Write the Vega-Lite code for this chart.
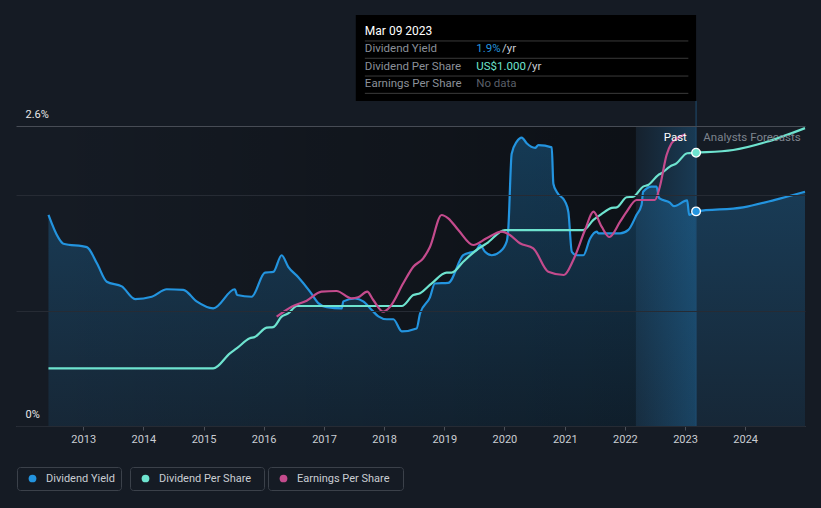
{
"$schema": "https://vega.github.io/schema/vega-lite/v6.json",
"width": 789,
"height": 300,
"autosize": {"type": "none"},
"padding": {"left": 16, "top": 126, "right": 16, "bottom": 82},
"background": "#151b24",
"config": {"font": "Roboto", "view": {"stroke": null}, "axis": {"labelFont": "Roboto"}, "legend": {"labelFont": "Roboto"}},
"datasets": {
"yield": [
{"date":"2012-06-04","yield":1.83},{"date":"2012-08-04","yield":1.63},{"date":"2012-09-03","yield":1.58},{"date":"2013-01-23","yield":1.55},
{"date":"2013-03-25","yield":1.41},{"date":"2013-05-24","yield":1.25},{"date":"2013-08-23","yield":1.21},{"date":"2013-11-12","yield":1.10},
{"date":"2014-02-21","yield":1.12},{"date":"2014-05-23","yield":1.185},{"date":"2014-08-31","yield":1.18},{"date":"2014-11-20","yield":1.08},
{"date":"2015-03-01","yield":1.02},{"date":"2015-07-10","yield":1.185},{"date":"2015-07-24","yield":1.135},{"date":"2015-10-20","yield":1.12},
{"date":"2016-01-09","yield":1.33},{"date":"2016-02-28","yield":1.335},{"date":"2016-04-19","yield":1.48},{"date":"2016-05-29","yield":1.38},
{"date":"2016-07-29","yield":1.29},{"date":"2016-10-08","yield":1.165},{"date":"2016-11-27","yield":1.065},{"date":"2017-01-18","yield":1.03},
{"date":"2017-04-19","yield":1.02},{"date":"2017-04-28","yield":1.08},{"date":"2017-07-08","yield":1.105},{"date":"2017-08-27","yield":1.08},
{"date":"2017-10-18","yield":1.005},{"date":"2017-11-27","yield":0.95},{"date":"2018-01-17","yield":0.925},{"date":"2018-02-26","yield":0.925},
{"date":"2018-04-18","yield":0.82},{"date":"2018-07-17","yield":0.845},{"date":"2018-08-07","yield":0.975},{"date":"2018-10-06","yield":1.115},
{"date":"2018-11-05","yield":1.235},{"date":"2019-01-25","yield":1.24},{"date":"2019-04-26","yield":1.48},{"date":"2019-07-16","yield":1.525},
{"date":"2019-08-05","yield":1.57},{"date":"2019-09-05","yield":1.51},{"date":"2019-10-16","yield":1.48},{"date":"2019-12-05","yield":1.51},
{"date":"2020-01-15","yield":1.60},{"date":"2020-01-24","yield":1.70},{"date":"2020-02-14","yield":2.36},{"date":"2020-03-16","yield":2.465},
{"date":"2020-04-15","yield":2.50},{"date":"2020-05-15","yield":2.45},{"date":"2020-07-05","yield":2.41},{"date":"2020-07-25","yield":2.435},
{"date":"2020-10-14","yield":2.415},{"date":"2020-10-24","yield":2.10},{"date":"2020-11-13","yield":2.03},{"date":"2021-01-03","yield":1.945},
{"date":"2021-01-23","yield":1.855},{"date":"2021-02-13","yield":1.51},{"date":"2021-03-15","yield":1.48},{"date":"2021-04-24","yield":1.48},
{"date":"2021-06-04","yield":1.625},{"date":"2021-07-14","yield":1.685},{"date":"2021-07-24","yield":1.67},{"date":"2021-12-03","yield":1.67},
{"date":"2022-01-22","yield":1.70},{"date":"2022-03-13","yield":1.83},{"date":"2022-04-12","yield":1.915},{"date":"2022-04-22","yield":2.03},
{"date":"2022-06-12","yield":2.075},{"date":"2022-07-12","yield":2.075},{"date":"2022-07-28","yield":1.975},{"date":"2022-10-01","yield":1.935},
{"date":"2022-10-26","yield":1.905},{"date":"2023-01-14","yield":1.955},{"date":"2023-01-26","yield":1.83},{"date":"2023-03-09","yield":1.86},
{"date":"2023-12-19","yield":1.895},{"date":"2024-06-30","yield":1.96},{"date":"2024-12-29","yield":2.03}
],
"dps": [
{"date":"2012-06-04","dps":0.211},{"date":"2015-03-01","dps":0.211},{"date":"2015-06-10","dps":0.266},{"date":"2015-07-21","dps":0.284},
{"date":"2015-10-09","dps":0.321},{"date":"2015-11-08","dps":0.326},{"date":"2016-01-19","dps":0.360},{"date":"2016-02-28","dps":0.362},
{"date":"2016-04-19","dps":0.400},{"date":"2016-05-29","dps":0.412},{"date":"2016-07-21","dps":0.439},{"date":"2018-04-18","dps":0.439},
{"date":"2018-06-27","dps":0.479},{"date":"2018-08-07","dps":0.486},{"date":"2018-10-17","dps":0.522},{"date":"2019-01-15","dps":0.561},
{"date":"2019-02-15","dps":0.561},{"date":"2019-04-26","dps":0.601},{"date":"2019-07-16","dps":0.644},{"date":"2019-09-15","dps":0.668},
{"date":"2020-01-04","dps":0.717},{"date":"2021-04-24","dps":0.717},{"date":"2021-06-24","dps":0.754},{"date":"2021-08-13","dps":0.776},
{"date":"2021-10-13","dps":0.798},{"date":"2021-11-12","dps":0.800},{"date":"2022-01-12","dps":0.837},{"date":"2022-02-21","dps":0.839},
{"date":"2022-04-22","dps":0.876},{"date":"2022-05-22","dps":0.882},{"date":"2022-07-22","dps":0.918},{"date":"2022-08-11","dps":0.925},
{"date":"2022-10-01","dps":0.949},{"date":"2022-11-10","dps":0.961},{"date":"2023-01-14","dps":0.998},{"date":"2023-03-09","dps":1.000},
{"date":"2023-10-20","dps":1.010},{"date":"2024-05-11","dps":1.040},{"date":"2024-12-29","dps":1.090}
],
"eps": [
{"date":"2016-03-20","eps":1.093},{"date":"2016-06-19","eps":1.193},{"date":"2016-09-18","eps":1.253},{"date":"2016-12-17","eps":1.343},
{"date":"2017-03-18","eps":1.350},{"date":"2017-06-17","eps":1.277},{"date":"2017-07-27","eps":1.287},{"date":"2017-09-20","eps":1.343},
{"date":"2017-10-27","eps":1.26},{"date":"2017-12-27","eps":1.143},{"date":"2018-02-06","eps":1.193},{"date":"2018-04-27","eps":1.427},
{"date":"2018-06-27","eps":1.593},{"date":"2018-08-26","eps":1.677},{"date":"2018-10-06","eps":1.79},{"date":"2018-12-16","eps":2.11},
{"date":"2019-01-25","eps":2.077},{"date":"2019-03-27","eps":1.96},{"date":"2019-06-26","eps":1.81},{"date":"2019-09-15","eps":1.877},
{"date":"2019-12-15","eps":1.943},{"date":"2020-02-03","eps":1.91},{"date":"2020-04-04","eps":1.827},{"date":"2020-06-24","eps":1.777},
{"date":"2020-09-23","eps":1.543},{"date":"2020-12-27","eps":1.51},{"date":"2021-02-22","eps":1.66},{"date":"2021-05-04","eps":1.96},
{"date":"2021-06-24","eps":2.143},{"date":"2021-08-13","eps":1.993},{"date":"2021-09-29","eps":1.89},{"date":"2021-12-03","eps":2.043},
{"date":"2022-01-12","eps":2.143},{"date":"2022-03-13","eps":2.26},{"date":"2022-07-02","eps":2.26},{"date":"2022-08-01","eps":2.393},
{"date":"2022-09-11","eps":2.71},{"date":"2022-10-11","eps":2.827},{"date":"2022-11-18","eps":2.88},{"date":"2023-01-01","eps":2.915}
]
},
"resolve": {"scale": {"y": "independent", "color": "independent"}, "axis": {"y": "independent"}, "legend": {"color": "independent"}},
"layer": [
{"data": {"values": [{}]},
 "mark": {"type": "rect", "color": {"gradient": "linear", "x1": 0, "y1": 0, "x2": 1, "y2": 0, "stops": [{"offset": 0, "color": "rgba(0,0,0,0)"}, {"offset": 1, "color": "rgba(0,0,0,0.38)"}]}},
 "encoding": {
  "x": {"datum": {"year": 2012, "month": 6, "date": 4}, "type": "temporal", "scale": {"domain": [{"year": 2011, "month": 11, "date": 20}, {"year": 2024, "month": 12, "date": 29}]}},
  "x2": {"datum": {"year": 2022, "month": 3, "date": 9}},
  "y": {"datum": 0, "type": "quantitative", "scale": {"domain": [0, 2.6]}, "axis": null},
  "y2": {"datum": 2.6}}},
{"data": {"values": [{}]},
 "mark": {"type": "rect", "color": {"gradient": "linear", "x1": 0, "y1": 0, "x2": 1, "y2": 0, "stops": [{"offset": 0, "color": "rgba(35,148,223,0.05)"}, {"offset": 1, "color": "rgba(35,148,223,0.26)"}]}},
 "encoding": {
  "x": {"datum": {"year": 2022, "month": 3, "date": 9}, "type": "temporal"},
  "x2": {"datum": {"year": 2023, "month": 3, "date": 9}},
  "y": {"datum": 0, "type": "quantitative", "scale": {"domain": [0, 2.6]}, "axis": null},
  "y2": {"datum": 2.6}}},
{"data": {"name": "yield"},
 "mark": {"type": "area", "interpolate": "monotone", "color": {"gradient": "linear", "x1": 0, "y1": 0, "x2": 0, "y2": 1, "stops": [{"offset": 0, "color": "rgba(35,148,223,0.30)"}, {"offset": 1, "color": "rgba(35,148,223,0.10)"}]}},
 "encoding": {
  "x": {"field": "date", "type": "temporal"},
  "y": {"field": "yield", "type": "quantitative", "scale": {"domain": [0, 2.6]}, "axis": null}}},
{"data": {"values": [{}]},
 "mark": {"type": "rule", "color": "#1f4d70", "strokeWidth": 1},
 "encoding": {
  "x": {"datum": {"year": 2023, "month": 3, "date": 9}, "type": "temporal"},
  "y": {"datum": 0, "type": "quantitative", "scale": {"domain": [0, 2.6]}, "axis": null},
  "y2": {"datum": 2.817}}},
{"data": {"name": "yield"},
 "mark": {"type": "line", "interpolate": "monotone", "strokeWidth": 2.2},
 "encoding": {
  "x": {"field": "date", "type": "temporal", "title": null,
        "axis": {"format": "%Y", "values": [{"year":2013,"month":1,"date":1},{"year":2014,"month":1,"date":1},{"year":2015,"month":1,"date":1},{"year":2016,"month":1,"date":1},{"year":2017,"month":1,"date":1},{"year":2018,"month":1,"date":1},{"year":2019,"month":1,"date":1},{"year":2020,"month":1,"date":1},{"year":2021,"month":1,"date":1},{"year":2022,"month":1,"date":1},{"year":2023,"month":1,"date":1},{"year":2024,"month":1,"date":1}],
                 "grid": false, "domainColor": "#4b5059", "tickColor": "#4b5059", "tickSize": 4, "labelColor": "#c9cdd3", "labelFontSize": 11, "labelPadding": 3, "labelFlush": false}},
  "y": {"field": "yield", "type": "quantitative", "title": null, "scale": {"domain": [0, 2.6], "nice": false},
        "axis": {"values": [0, 1, 2, 2.6], "labelExpr": "datum.value == 0 ? '0%' : (datum.value == 2.6 ? '2.6%' : '')", "grid": true,
                 "gridColor": {"condition": {"test": "datum.value == 2.6", "value": "#474c55"}, "value": "#262b34"},
                 "domain": false, "ticks": false, "labelAlign": "left", "labelPadding": -9, "labelBaseline": "bottom", "labelOffset": -7,
                 "labelColor": "#e8e8e8", "labelFontSize": 11, "labelFlush": false, "zindex": 1}},
  "color": {"datum": "Dividend Yield", "type": "nominal", "scale": {"domain": ["Dividend Yield"], "range": ["#2394df"]},
            "legend": {"orient": "none", "legendX": 1, "legendY": 341, "direction": "horizontal", "title": null, "symbolType": "circle", "symbolSize": 60,
                       "symbolFillColor": "#2394df", "symbolStrokeColor": "#2394df", "symbolStrokeWidth": 0, "strokeColor": "#3b414a", "cornerRadius": 3,
                       "padding": 6, "labelColor": "#c9cdd3", "labelFontSize": 11, "symbolOffset": 4, "labelOffset": 8}}}},
{"data": {"name": "dps"},
 "mark": {"type": "line", "interpolate": "monotone", "strokeWidth": 2.2},
 "encoding": {
  "x": {"field": "date", "type": "temporal"},
  "y": {"field": "dps", "type": "quantitative", "scale": {"domain": [0, 1.0977], "nice": false}, "axis": null},
  "color": {"datum": "Dividend Per Share", "type": "nominal", "scale": {"domain": ["Dividend Per Share"], "range": ["#6ee3cf"]},
            "legend": {"orient": "none", "legendX": 114, "legendY": 341, "direction": "horizontal", "title": "..", "titleOrient": "right", "titlePadding": 0, "titleOpacity": 0, "titleFontSize": 11,
                       "symbolType": "circle", "symbolSize": 60,
                       "symbolFillColor": "#6ee3cf", "symbolStrokeColor": "#6ee3cf", "symbolStrokeWidth": 0, "strokeColor": "#3b414a", "cornerRadius": 3,
                       "padding": 6, "labelColor": "#c9cdd3", "labelFontSize": 11, "symbolOffset": 4, "labelOffset": 8}}}},
{"data": {"name": "eps"},
 "mark": {"type": "line", "interpolate": "monotone", "strokeWidth": 2.2},
 "encoding": {
  "x": {"field": "date", "type": "temporal"},
  "y": {"field": "eps", "type": "quantitative", "scale": {"domain": [0, 3], "nice": false}, "axis": null},
  "color": {"datum": "Earnings Per Share", "type": "nominal", "scale": {"domain": ["Earnings Per Share"], "range": ["#c44b8d"]},
            "legend": {"orient": "none", "legendX": 252, "legendY": 341, "direction": "horizontal", "title": "..", "titleOrient": "right", "titlePadding": 0, "titleOpacity": 0, "titleFontSize": 11,
                       "symbolType": "circle", "symbolSize": 60,
                       "symbolFillColor": "#c44b8d", "symbolStrokeColor": "#c44b8d", "symbolStrokeWidth": 0, "strokeColor": "#3b414a", "cornerRadius": 3,
                       "padding": 6, "labelColor": "#c9cdd3", "labelFontSize": 11, "symbolOffset": 4, "labelOffset": 8}}}},
{"data": {"name": "yield"},
 "transform": [{"filter": "utcyear(datum.date) == 2023 && utcmonth(datum.date) == 2 && utcdate(datum.date) == 9"}],
 "mark": {"type": "point", "filled": true, "size": 75, "fill": "#2394df", "stroke": "#ffffff", "strokeWidth": 1.3, "opacity": 1},
 "encoding": {
  "x": {"field": "date", "type": "temporal"},
  "y": {"field": "yield", "type": "quantitative", "scale": {"domain": [0, 2.6], "nice": false}, "axis": null}}},
{"data": {"name": "dps"},
 "transform": [{"filter": "utcyear(datum.date) == 2023 && utcmonth(datum.date) == 2 && utcdate(datum.date) == 9"}],
 "mark": {"type": "point", "filled": true, "size": 75, "fill": "#6ee3cf", "stroke": "#ffffff", "strokeWidth": 1.3, "opacity": 1},
 "encoding": {
  "x": {"field": "date", "type": "temporal"},
  "y": {"field": "dps", "type": "quantitative", "scale": {"domain": [0, 1.0977], "nice": false}, "axis": null}}},
{"data": {"values": [{}]},
 "layer": [
  {"mark": {"type": "text", "text": "Past", "align": "right", "baseline": "middle", "color": "#ffffff", "fontSize": 11.5},
   "encoding": {"x": {"datum": {"year": 2023, "month": 1, "date": 12}, "type": "temporal"},
                "y": {"datum": 2.496, "type": "quantitative", "scale": {"domain": [0, 2.6], "nice": false}, "axis": null}}},
  {"mark": {"type": "text", "text": "Analysts Forecasts", "align": "left", "baseline": "middle", "color": "#7d848e", "fontSize": 11.5},
   "encoding": {"x": {"datum": {"year": 2023, "month": 4, "date": 22}, "type": "temporal"},
                "y": {"datum": 2.496, "type": "quantitative"}}},
  {"mark": {"type": "rect", "color": "#000000"},
   "encoding": {"x": {"datum": {"year": 2017, "month": 7, "date": 13}, "type": "temporal"},
                "x2": {"datum": {"year": 2023, "month": 3, "date": 9}},
                "y": {"datum": 3.562, "type": "quantitative"}, "y2": {"datum": 2.817}}},
  {"mark": {"type": "rule", "color": "#3a3a3a", "strokeWidth": 1},
   "encoding": {"x": {"datum": {"year": 2017, "month": 9, "date": 6}, "type": "temporal"}, "x2": {"datum": {"year": 2023, "month": 1, "date": 21}},
                "y": {"datum": 3.337, "type": "quantitative"}}},
  {"mark": {"type": "rule", "color": "#3a3a3a", "strokeWidth": 1},
   "encoding": {"x": {"datum": {"year": 2017, "month": 9, "date": 6}, "type": "temporal"}, "x2": {"datum": {"year": 2023, "month": 1, "date": 21}},
                "y": {"datum": 3.187, "type": "quantitative"}}},
  {"mark": {"type": "rule", "color": "#3a3a3a", "strokeWidth": 1},
   "encoding": {"x": {"datum": {"year": 2017, "month": 9, "date": 6}, "type": "temporal"}, "x2": {"datum": {"year": 2023, "month": 1, "date": 21}},
                "y": {"datum": 3.033, "type": "quantitative"}}},
  {"mark": {"type": "rule", "color": "#3a3a3a", "strokeWidth": 1},
   "encoding": {"x": {"datum": {"year": 2017, "month": 9, "date": 6}, "type": "temporal"}, "x2": {"datum": {"year": 2023, "month": 1, "date": 21}},
                "y": {"datum": 2.883, "type": "quantitative"}}},
  {"mark": {"type": "text", "text": "Mar 09 2023", "align": "left", "baseline": "middle", "color": "#ffffff", "fontSize": 12},
   "encoding": {"x": {"datum": {"year": 2017, "month": 9, "date": 6}, "type": "temporal"}, "y": {"datum": 3.426, "type": "quantitative"}}},
  {"mark": {"type": "text", "text": "Dividend Yield", "align": "left", "baseline": "middle", "color": "#8b9099", "fontSize": 11.5},
   "encoding": {"x": {"datum": {"year": 2017, "month": 9, "date": 6}, "type": "temporal"}, "y": {"datum": 3.265, "type": "quantitative"}}},
  {"mark": {"type": "text", "text": "Dividend Per Share", "align": "left", "baseline": "middle", "color": "#8b9099", "fontSize": 11.5},
   "encoding": {"x": {"datum": {"year": 2017, "month": 9, "date": 6}, "type": "temporal"}, "y": {"datum": 3.114, "type": "quantitative"}}},
  {"mark": {"type": "text", "text": "Earnings Per Share", "align": "left", "baseline": "middle", "color": "#8b9099", "fontSize": 11.5},
   "encoding": {"x": {"datum": {"year": 2017, "month": 9, "date": 6}, "type": "temporal"}, "y": {"datum": 2.961, "type": "quantitative"}}},
  {"mark": {"type": "text", "text": "1.9%", "align": "left", "baseline": "middle", "color": "#2394df", "fontSize": 11.5},
   "encoding": {"x": {"datum": {"year": 2019, "month": 7, "date": 14}, "type": "temporal"}, "y": {"datum": 3.265, "type": "quantitative"}}},
  {"mark": {"type": "text", "text": "/yr", "align": "left", "baseline": "middle", "color": "#c9cdd3", "fontSize": 11.5},
   "encoding": {"x": {"datum": {"year": 2019, "month": 12, "date": 18}, "type": "temporal"}, "y": {"datum": 3.265, "type": "quantitative"}}},
  {"mark": {"type": "text", "text": "US$1.000", "align": "left", "baseline": "middle", "color": "#6ee3cf", "fontSize": 11.5},
   "encoding": {"x": {"datum": {"year": 2019, "month": 7, "date": 14}, "type": "temporal"}, "y": {"datum": 3.114, "type": "quantitative"}}},
  {"mark": {"type": "text", "text": "/yr", "align": "left", "baseline": "middle", "color": "#c9cdd3", "fontSize": 11.5},
   "encoding": {"x": {"datum": {"year": 2020, "month": 5, "date": 19}, "type": "temporal"}, "y": {"datum": 3.114, "type": "quantitative"}}},
  {"mark": {"type": "text", "text": "No data", "align": "left", "baseline": "middle", "color": "#5a5f68", "fontSize": 11.5},
   "encoding": {"x": {"datum": {"year": 2019, "month": 7, "date": 14}, "type": "temporal"}, "y": {"datum": 2.961, "type": "quantitative"}}}
 ]}
]
}
